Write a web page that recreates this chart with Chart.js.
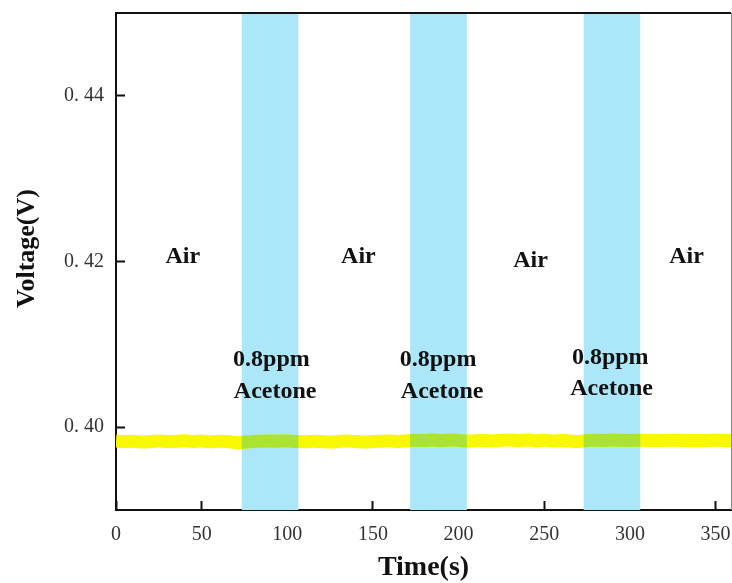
<!DOCTYPE html>
<html>
<head>
<meta charset="utf-8">
<script src="https://cdn.jsdelivr.net/npm/chart.js@4/dist/chart.umd.min.js"></script>
<style>
  html, body { margin: 0; padding: 0; background: #fff; }
  #wrap { width: 732px; height: 583px; }
</style>
</head>
<body>
<div id="wrap"><canvas id="myChart" width="732" height="583"></canvas></div>
<script>
// sensor output, sampled every 5 s
const times = [0, 5, 10, 15, 20, 25, 30, 35, 40, 45, 50, 55, 60, 65, 70, 75, 80, 85, 90, 95,
  100, 105, 110, 115, 120, 125, 130, 135, 140, 145, 150, 155, 160, 165, 170, 175, 180, 185, 190, 195,
  200, 205, 210, 215, 220, 225, 230, 235, 240, 245, 250, 255, 260, 265, 270, 275, 280, 285, 290, 295,
  300, 305, 310, 315, 320, 325, 330, 335, 340, 345, 350, 355, 359];
const voltage = [0.39832, 0.39826, 0.39830, 0.39822, 0.39828, 0.39834, 0.39826, 0.39830, 0.39836, 0.39828,
  0.39832, 0.39824, 0.39830, 0.39826, 0.39816, 0.39820, 0.39828, 0.39830, 0.39832, 0.39830,
  0.39834, 0.39828, 0.39824, 0.39830, 0.39826, 0.39822, 0.39828, 0.39832, 0.39826, 0.39820,
  0.39826, 0.39830, 0.39834, 0.39828, 0.39836, 0.39842, 0.39838, 0.39844, 0.39840, 0.39846,
  0.39838, 0.39832, 0.39836, 0.39840, 0.39834, 0.39842, 0.39846, 0.39838, 0.39844, 0.39836,
  0.39842, 0.39834, 0.39840, 0.39832, 0.39828, 0.39838, 0.39842, 0.39840, 0.39844, 0.39842,
  0.39840, 0.39842, 0.39840, 0.39838, 0.39840, 0.39842, 0.39840, 0.39838, 0.39840, 0.39840,
  0.39842, 0.39840, 0.39840];

// acetone exposure windows (s)
const gasStart = [73.4, 171.7, 273];
const gasEnd = [106.5, 204.8, 306];

const xTicks = [0, 50, 100, 150, 200, 250, 300, 350];
const yTicks = [0.40, 0.42, 0.44];

// text placed at (time, voltage)
const labelText = ['Air', 'Air', 'Air', 'Air',
  '0.8ppm', 'Acetone', '0.8ppm', 'Acetone', '0.8ppm', 'Acetone'];
const labelX = [39, 141.5, 242, 333, 90.7, 92.9, 188, 190.4, 288.5, 289.3];
const labelY = [0.42052, 0.42052, 0.42004, 0.42052, 0.40811, 0.40429, 0.40811, 0.40429, 0.40835, 0.40465];

const points = times.map((t, i) => ({ x: t, y: voltage[i] }));

// green copy of the trace is dataset 0 (drawn last, on top) and only shows inside the gas windows
const GAS_TRACE = 0;

const bandPlugin = {
  id: 'bands',
  beforeDatasetsDraw(chart) {
    const { ctx, chartArea, scales: { x } } = chart;
    ctx.save();
    ctx.fillStyle = 'rgb(172,231,249)';
    for (let i = 0; i < gasStart.length; i++) {
      const x0 = x.getPixelForValue(gasStart[i]);
      const x1 = x.getPixelForValue(gasEnd[i]);
      ctx.fillRect(x0, chartArea.top, x1 - x0, chartArea.bottom - chartArea.top);
    }
    ctx.restore();
  },
  beforeDatasetDraw(chart, args) {
    if (args.index !== GAS_TRACE) return;
    const { ctx, chartArea, scales: { x } } = chart;
    ctx.save();
    ctx.beginPath();
    for (let i = 0; i < gasStart.length; i++) {
      const x0 = x.getPixelForValue(gasStart[i]);
      const x1 = x.getPixelForValue(gasEnd[i]);
      ctx.rect(x0, chartArea.top, x1 - x0, chartArea.bottom - chartArea.top);
    }
    ctx.clip();
  },
  afterDatasetDraw(chart, args) {
    if (args.index !== GAS_TRACE) return;
    chart.ctx.restore();
  },
  afterDatasetsDraw(chart) {
    const { ctx, scales: { x, y } } = chart;
    ctx.save();
    ctx.fillStyle = '#111';
    ctx.font = 'bold 24px "Liberation Serif"';
    ctx.textAlign = 'center';
    ctx.textBaseline = 'middle';
    for (let i = 0; i < labelText.length; i++) {
      ctx.fillText(labelText[i], x.getPixelForValue(labelX[i]), y.getPixelForValue(labelY[i]));
    }
    ctx.restore();
  },
  afterDraw(chart) {
    const { ctx, chartArea } = chart;
    ctx.save();
    // top frame line and thin right edge
    ctx.strokeStyle = '#111';
    ctx.lineWidth = 2;
    ctx.beginPath();
    ctx.moveTo(chartArea.left, chartArea.top);
    ctx.lineTo(chartArea.right, chartArea.top);
    ctx.stroke();
    ctx.strokeStyle = '#888';
    ctx.lineWidth = 1;
    ctx.beginPath();
    ctx.moveTo(chartArea.right + 0.5, chartArea.top);
    ctx.lineTo(chartArea.right + 0.5, chartArea.bottom);
    ctx.stroke();
    // y axis title sits a little above the middle of the plot
    ctx.fillStyle = '#111';
    ctx.font = 'bold 26px "Liberation Serif"';
    ctx.textAlign = 'center';
    ctx.textBaseline = 'middle';
    ctx.translate(27, (chartArea.top + chartArea.bottom) / 2 - 13);
    ctx.rotate(-Math.PI / 2);
    ctx.fillText('Voltage(V)', 0, 0);
    ctx.restore();
  }
};

const tickFont = { family: '"Liberation Serif", serif', size: 20 };

function noEdgePadding(scale) {
  scale.paddingTop = 0;
  scale.paddingBottom = 0;
  scale.paddingLeft = 0;
  scale.paddingRight = 0;
}

const config = {
  type: 'line',
  data: {
    datasets: [{
      label: 'Voltage (gas)',
      data: points,
      borderColor: 'rgb(170,228,48)',
      borderWidth: 13,
      borderCapStyle: 'butt',
      pointRadius: 0,
      tension: 0.4
    }, {
      label: 'Voltage',
      data: points,
      borderColor: 'rgb(248,248,0)',
      borderWidth: 13,
      borderCapStyle: 'butt',
      pointRadius: 0,
      tension: 0.4
    }]
  },
  options: {
    responsive: false,
    animation: false,
    layout: { padding: { top: 13, right: 1, left: 0, bottom: 0 } },
    plugins: {
      legend: { display: false },
      tooltip: { enabled: false }
    },
    scales: {
      x: {
        type: 'linear',
        min: 0,
        max: 359,
        afterBuildTicks: (scale) => { scale.ticks = xTicks.map(v => ({ value: v })); },
        afterFit: (scale) => { scale.height = 73; noEdgePadding(scale); },
        grid: { drawOnChartArea: false, tickLength: -9, tickWidth: 2, tickColor: '#111' },
        border: { color: '#111', width: 2 },
        ticks: { color: '#333', font: tickFont, padding: 22, maxRotation: 0 },
        title: {
          display: true,
          text: 'Time(s)',
          color: '#111',
          font: { family: '"Liberation Serif", serif', size: 28, weight: 'bold', lineHeight: 1.1 },
          padding: { top: 0, bottom: 0 }
        }
      },
      y: {
        min: 0.39,
        max: 0.45,
        afterBuildTicks: (scale) => { scale.ticks = yTicks.map(v => ({ value: v })); },
        afterFit: (scale) => { scale.width = 116; noEdgePadding(scale); },
        grid: { drawOnChartArea: false, tickLength: -9, tickWidth: 2, tickColor: '#111' },
        border: { color: '#111', width: 2 },
        ticks: {
          color: '#333',
          font: tickFont,
          padding: 21,
          callback: (v) => v.toFixed(2).replace('.', '. ')
        }
      }
    }
  },
  plugins: [bandPlugin]
};

var myChart = new Chart(document.getElementById('myChart'), config);
</script>
</body>
</html>
